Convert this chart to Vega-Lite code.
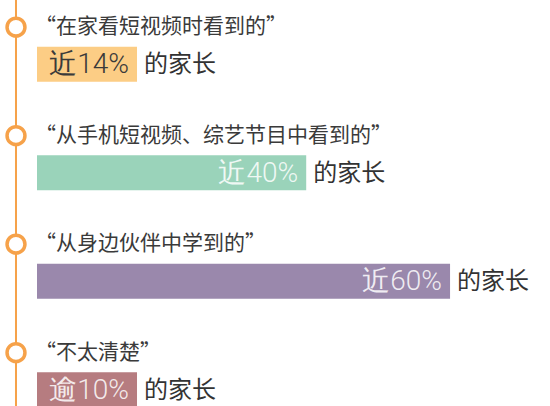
{
  "$schema": "https://vega.github.io/schema/vega-lite/v6.json",
  "width": 550,
  "height": 444,
  "autosize": {"type": "none"},
  "padding": 0,
  "background": "white",
  "config": {"view": {"stroke": null}},
  "data": {
    "values": [
      {"row": 1, "question": "“在家看短视频时看到的”", "label": "近14%", "suffix": "的家长", "length": 14.6},
      {"row": 2, "question": "“从手机短视频、综艺节目中看到的”", "label": "近40%", "suffix": "的家长", "length": 39.3},
      {"row": 3, "question": "“从身边伙伴中学到的”", "label": "近60%", "suffix": "的家长", "length": 60.3},
      {"row": 4, "question": "“不太清楚”", "label": "逾10%", "suffix": "的家长", "length": 14.6}
    ]
  },
  "encoding": {
    "y": {"field": "row", "type": "quantitative", "scale": {"domain": [0.455, 4.455], "reverse": true, "nice": false, "zero": false}, "axis": null}
  },
  "layer": [
    {
      "mark": {"type": "rule", "color": "#F6A24A", "strokeWidth": 2},
      "encoding": {
        "x": {"datum": -3.066, "type": "quantitative", "scale": {"domain": [-5.4015, 74.891], "nice": false, "zero": false}, "axis": null},
        "y": {"datum": 0, "type": "quantitative"},
        "y2": {"datum": 5}
      }
    },
    {
      "mark": {"type": "bar", "orient": "horizontal", "size": 35},
      "encoding": {
        "x": {"field": "length", "type": "quantitative", "axis": null},
        "x2": {"datum": 0},
        "color": {"field": "row", "type": "nominal", "scale": {"domain": [1, 2, 3, 4], "range": ["#FCCD85", "#9AD3BA", "#9A88AC", "#B67C80"]}, "legend": null}
      }
    },
    {
      "mark": {"type": "point", "shape": "circle", "size": 320, "filled": false, "fill": "white", "stroke": "#F6A24A", "strokeWidth": 3.5, "opacity": 1, "yOffset": -37},
      "encoding": {
        "x": {"datum": -3.066, "type": "quantitative"}
      }
    },
    {
      "mark": {"type": "text", "align": "left", "baseline": "middle", "dx": -2, "dy": -37, "font": "Noto Sans CJK SC", "fontSize": 21, "color": "#3a3a3a"},
      "encoding": {
        "x": {"datum": 0, "type": "quantitative"},
        "text": {"field": "question"}
      }
    },
    {
      "mark": {"type": "text", "align": "right", "baseline": "middle", "dx": -8, "dy": 1, "font": "Roboto", "fontWeight": 300, "fontSize": 28},
      "encoding": {
        "x": {"field": "length", "type": "quantitative"},
        "text": {"field": "label"},
        "fill": {"condition": {"test": "datum.row == 1", "value": "#3a3a3a"}, "value": "#ffffff"},
        "fillOpacity": {"condition": {"test": "datum.row == 1", "value": 1}, "value": 0.85}
      }
    },
    {
      "mark": {"type": "text", "align": "left", "baseline": "middle", "dx": 7, "dy": 1, "font": "Noto Sans CJK SC", "fontSize": 24, "color": "#333333"},
      "encoding": {
        "x": {"field": "length", "type": "quantitative"},
        "text": {"field": "suffix"}
      }
    }
  ]
}
